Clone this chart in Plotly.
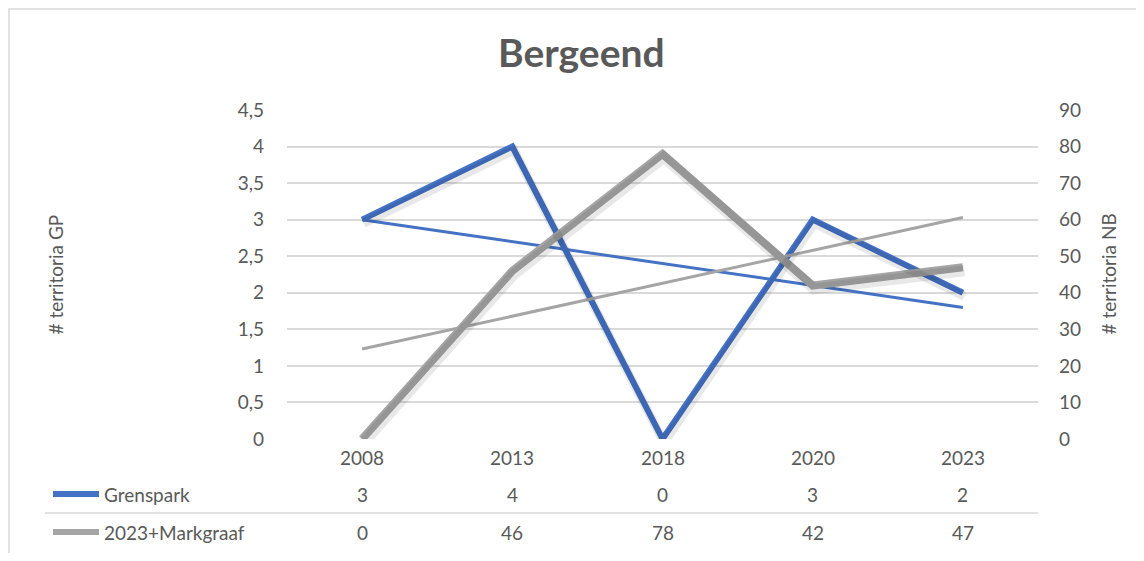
import numpy as np
import plotly.graph_objects as go

title = "Bergeend"
years = ["2008", "2013", "2018", "2020", "2023"]
grenspark = [3, 4, 0, 3, 2]
markgraaf = [0, 46, 78, 42, 47]
name_gp = "Grenspark"
name_nb = "2023+Markgraaf"
left_ticks = [0, 0.5, 1, 1.5, 2, 2.5, 3, 3.5, 4, 4.5]
left_ticktext = ["0", "0,5", "1", "1,5", "2", "2,5", "3", "3,5", "4", "4,5"]
right_ticks = [0, 10, 20, 30, 40, 50, 60, 70, 80, 90]
left_title = "# territoria GP"
right_title = "# territoria NB"

BLUE = "#4472C4"
GRAY = "#A5A5A5"
TXT = "#595959"
GRID = "#D9D9D9"
SHADOW = "rgba(0,0,0,0.09)"
FONT = "Lato, Carlito, Calibri, sans-serif"
FS = 19

OFF = 8  # page body margin
W, H = 1144 - 2 * OFF, 561 - 2 * OFF
L, R, T, B = 287 - OFF, 1038 - OFF, 110 - OFF, 439 - OFF
pw, ph = R - L, B - T


def px_x(px):
    return (px - OFF - L) / pw


def px_y(py):
    return (B - (py - OFF)) / ph


n = len(years)
pos = list(range(n))
idx = np.arange(1, n + 1)
gp_fit = np.polyval(np.polyfit(idx, grenspark, 1), idx)
nb_fit = np.polyval(np.polyfit(idx, markgraaf, 1), idx)

# shadow axes: same scales shifted by a few pixels
sdx, sdy = 1.5, 3.5
xr = [-0.5, n - 0.5]
x_shift = sdx / pw * (xr[1] - xr[0])
y1_shift = sdy / ph * 4.5
y2_shift = sdy / ph * 90

fig = go.Figure()
fig.add_trace(go.Scatter(x=pos, y=grenspark, mode="lines", line=dict(color=SHADOW, width=9),
                         xaxis="x2", yaxis="y3", hoverinfo="skip"))
fig.add_trace(go.Scatter(x=pos, y=markgraaf, mode="lines", line=dict(color=SHADOW, width=11),
                         xaxis="x2", yaxis="y4", hoverinfo="skip"))
fig.add_trace(go.Scatter(x=pos, y=grenspark, mode="lines", name=name_gp,
                         line=dict(color=BLUE, width=6), xaxis="x", yaxis="y"))
fig.add_trace(go.Scatter(x=pos, y=markgraaf, mode="lines", name=name_nb,
                         line=dict(color=GRAY, width=8), xaxis="x", yaxis="y2"))
fig.add_trace(go.Scatter(x=pos, y=gp_fit, mode="lines",
                         line=dict(color=BLUE, width=3), xaxis="x", yaxis="y"))
fig.add_trace(go.Scatter(x=pos, y=nb_fit, mode="lines",
                         line=dict(color=GRAY, width=3), xaxis="x", yaxis="y2"))

annotations = []
shapes = []
tf = dict(size=FS, color=TXT, family=FONT)

for i, y in enumerate(years):
    annotations.append(dict(x=i, xref="x", y=px_y(457), yref="paper", text=y,
                            showarrow=False, font=tf, xanchor="center", yanchor="middle"))
for i, v in enumerate(grenspark):
    annotations.append(dict(x=i, xref="x", y=px_y(494), yref="paper", text=str(v),
                            showarrow=False, font=tf, xanchor="center", yanchor="middle"))
for i, v in enumerate(markgraaf):
    annotations.append(dict(x=i, xref="x", y=px_y(532), yref="paper", text=str(v),
                            showarrow=False, font=tf, xanchor="center", yanchor="middle"))

for name, col, py in [(name_gp, BLUE, 494), (name_nb, GRAY, 532)]:
    shapes.append(dict(type="line", xref="paper", yref="paper",
                       x0=px_x(53), x1=px_x(99), y0=px_y(py), y1=px_y(py),
                       line=dict(color=col, width=6)))
    annotations.append(dict(x=px_x(102), xref="paper", y=px_y(py), yref="paper", text=name,
                            showarrow=False, font=tf, xanchor="left", yanchor="middle"))

shapes.append(dict(type="line", xref="paper", yref="paper",
                   x0=px_x(45), x1=1.0, y0=px_y(513), y1=px_y(513),
                   line=dict(color=GRID, width=1.5)))

shapes.append(dict(type="rect", xref="paper", yref="paper",
                   x0=px_x(9), x1=px_x(1300), y0=px_y(9), y1=px_y(700),
                   line=dict(color=GRID, width=1.5), layer="below"))

annotations.append(dict(x=px_x(55), xref="paper", y=0.5, yref="paper", text=left_title,
                        textangle=-90, showarrow=False, font=tf,
                        xanchor="center", yanchor="middle"))
annotations.append(dict(x=px_x(1108), xref="paper", y=0.5, yref="paper", text=right_title,
                        textangle=-90, showarrow=False, font=tf,
                        xanchor="center", yanchor="middle"))

annotations.append(dict(x=px_x(581), xref="paper", y=px_y(52), yref="paper",
                        text="<b>" + title + "</b>", showarrow=False,
                        font=dict(size=39, color=TXT, family=FONT),
                        xanchor="center", yanchor="middle"))

hidden = dict(showticklabels=False, showgrid=False, zeroline=False, showline=False, fixedrange=True)
fig.update_layout(
    width=W, height=H,
    margin=dict(l=L, r=W - R, t=T, b=H - B, pad=0),
    paper_bgcolor="white", plot_bgcolor="white",
    showlegend=False,
    font=dict(family=FONT, color=TXT, size=FS),
    xaxis=dict(range=xr, **hidden),
    xaxis2=dict(range=[xr[0] - x_shift, xr[1] - x_shift], overlaying="x", **hidden),
    yaxis=dict(range=[0, 4.5], tickvals=left_ticks, ticktext=left_ticktext,
               showgrid=True, gridcolor=GRID, gridwidth=1.5, zeroline=False,
               showline=False, ticklabelstandoff=22, tickfont=tf),
    yaxis2=dict(range=[0, 90], tickvals=right_ticks, overlaying="y", side="right",
                showgrid=False, zeroline=False, showline=False, ticklabelstandoff=20,
                tickfont=tf),
    yaxis3=dict(range=[y1_shift, 4.5 + y1_shift], overlaying="y", **hidden),
    yaxis4=dict(range=[y2_shift, 90 + y2_shift], overlaying="y", **hidden),
    annotations=annotations,
    shapes=shapes,
)

fig.write_html("out.html")
